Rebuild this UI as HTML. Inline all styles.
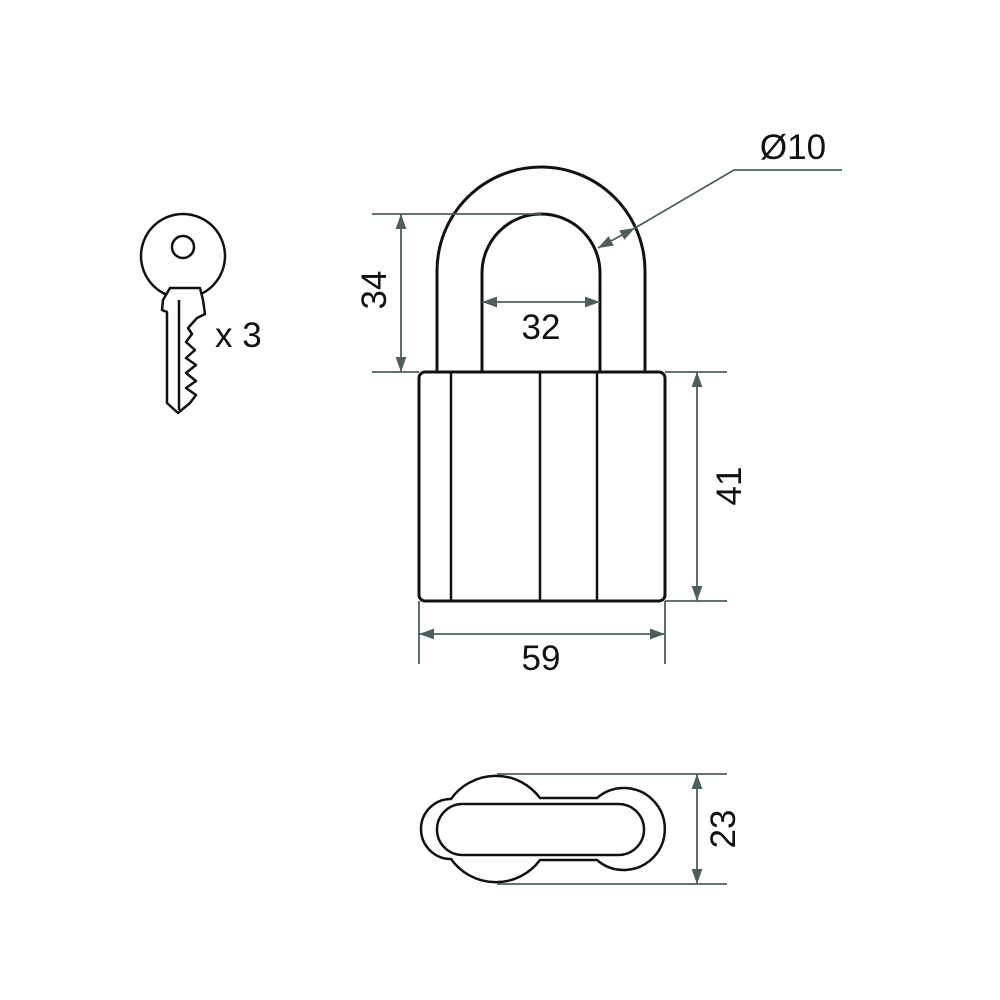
<!DOCTYPE html>
<html><head><style>
html,body{margin:0;padding:0;background:#fff;}
svg{display:block;}
text{font-family:"Liberation Sans",Arial,sans-serif;fill:#111;}
</style></head><body>
<svg width="1000" height="1000" viewBox="0 0 1000 1000" xmlns="http://www.w3.org/2000/svg">
<defs>
<marker id="a" viewBox="0 0 10 10" refX="10" refY="5" markerWidth="15" markerHeight="12" markerUnits="userSpaceOnUse" orient="auto-start-reverse" preserveAspectRatio="none">
<path d="M0,0.5 L10,5 L0,9.5 Z" fill="#4d5e5e"/>
</marker>
</defs>
<!-- key -->
<g fill="#fff" stroke="#111" stroke-width="2.5" stroke-linejoin="round">
<circle cx="183" cy="256" r="42"/>
<circle cx="183" cy="247" r="11"/>
<path d="M170,288 L200,288 L203,300 L205,314 L197,318 L188,328 L192,334 L186,342 L195,350 L186,358 L196,365 L186,373 L196,381 L186,388 L196,395 L190,403 L178,413 L167,403 L167,312 L162,310 L163,300 Z"/>
<line x1="179" y1="300" x2="179" y2="410"/>
</g>
<text x="215" y="347" font-size="35">x 3</text>

<!-- shackle -->
<g fill="none" stroke="#111" stroke-width="3">
<path d="M437,372 L437,271 A104,104 0 0 1 645,271 L645,372"/>
<path d="M482,372 L482,273 A59,59 0 0 1 600,273 L600,372"/>
</g>
<!-- body -->
<rect x="419" y="372" width="246" height="229" rx="6" fill="#fff" stroke="#111" stroke-width="3"/>
<g stroke="#111" stroke-width="2.5">
<line x1="451" y1="372" x2="451" y2="601"/>
<line x1="540" y1="372" x2="540" y2="601"/>
<line x1="597" y1="372" x2="597" y2="601"/>
</g>

<!-- dims -->
<g stroke="#4d5e5e" stroke-width="1.8" fill="none">
<line x1="372" y1="214" x2="541" y2="214"/>
<line x1="372" y1="372" x2="419" y2="372"/>
<line x1="401" y1="214" x2="401" y2="372" marker-start="url(#a)" marker-end="url(#a)"/>
<line x1="482" y1="302" x2="600" y2="302" marker-start="url(#a)" marker-end="url(#a)"/>
<line x1="665" y1="372" x2="727" y2="372"/>
<line x1="665" y1="601" x2="727" y2="601"/>
<line x1="697" y1="372" x2="697" y2="601" marker-start="url(#a)" marker-end="url(#a)"/>
<line x1="419" y1="601" x2="419" y2="664"/>
<line x1="665" y1="601" x2="665" y2="664"/>
<line x1="419" y1="634" x2="665" y2="634" marker-start="url(#a)" marker-end="url(#a)"/>
<line x1="598" y1="248" x2="635" y2="228" marker-start="url(#a)" marker-end="url(#a)"/>
<polyline points="635,228 734,170 842,170"/>
<line x1="497" y1="774" x2="727" y2="774"/>
<line x1="497" y1="884" x2="727" y2="884"/>
<line x1="697" y1="774" x2="697" y2="884" marker-start="url(#a)" marker-end="url(#a)"/>
</g>
<g font-size="35" text-anchor="middle">
<text x="541" y="339">32</text>
<text x="541" y="670">59</text>
<text x="793" y="159">Ø10</text>
<text transform="translate(386,290) rotate(-90)">34</text>
<text transform="translate(741,486) rotate(-90)">41</text>
<text transform="translate(735,829) rotate(-90)">23</text>
</g>

<!-- bottom view -->
<g fill="none" stroke="#111" stroke-width="2.5">
<path d="M451,799 A55,55 0 0 1 540,798 L597,798 A41,41 0 1 1 597,860 L540,860 A55,55 0 0 1 451,859 A30,30 0 1 1 451,799 Z" fill="#fff"/>
<rect x="437" y="804" width="207" height="51" rx="25.5"/>
</g>
</svg>
</body></html>
